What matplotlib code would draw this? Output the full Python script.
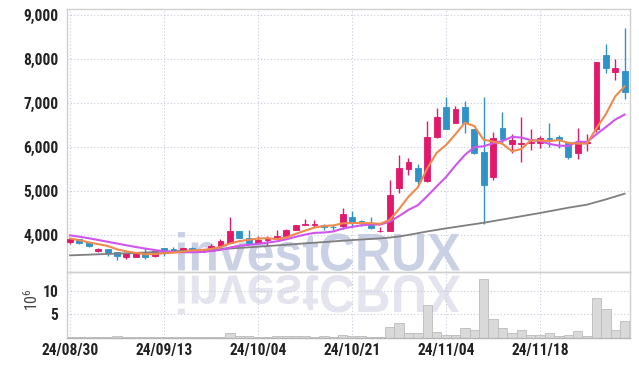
import matplotlib
matplotlib.use("Agg")
import matplotlib.pyplot as plt
import numpy as np
from matplotlib import font_manager
from matplotlib.textpath import TextPath
from matplotlib.patches import PathPatch
from matplotlib.font_manager import FontProperties
from matplotlib.transforms import Affine2D
from matplotlib.ticker import FuncFormatter

# daily candles, 24/08/30 .. 24/11/29
opens = [3822, 3890, 3830, 3630, 3675, 3600, 3495, 3495, 3570, 3500,
         3685, 3675, 3625, 3700, 3600, 3635, 3745, 3815, 4080, 3910,
         3800, 3885, 3905, 3960, 4110, 4215, 4220, 4225, 4170, 4200,
         4400, 4300, 4270, 4070, 4085, 5065, 5490, 5515, 5225, 6215,
         6910, 6550, 6910, 6405, 5885, 5300, 6420, 6055, 6055, 6080,
         6090, 6205, 6225, 6080, 5850, 6080, 6405, 8090, 7710, 7725]
highs = [3915, 3900, 3835, 3700, 3680, 3610, 3580, 3580, 3686, 3640,
         3690, 3715, 3695, 3725, 3660, 3790, 3905, 4390, 4085, 4095,
         3960, 3975, 4100, 4115, 4220, 4350, 4330, 4230, 4220, 4600,
         4530, 4330, 4405, 4180, 5240, 5800, 5750, 5600, 6590, 6875,
         7125, 6935, 7040, 6410, 7140, 6340, 6785, 6290, 6670, 6400,
         6250, 6530, 6265, 6090, 6420, 6285, 7935, 8340, 8000, 8700]
lows = [3775, 3790, 3710, 3595, 3517, 3420, 3450, 3480, 3435, 3495,
        3517, 3620, 3620, 3640, 3595, 3620, 3740, 3800, 3925, 3760,
        3795, 3760, 3900, 3955, 4105, 4210, 4180, 4103, 4100, 4120,
        4165, 4200, 4120, 4060, 4080, 4940, 5355, 5130, 5190, 6200,
        6400, 6545, 6305, 5840, 4240, 5240, 6080, 5850, 5660, 5925,
        5965, 6000, 5965, 5715, 5715, 5910, 6340, 7670, 7520, 7080]
closes = [3898, 3810, 3730, 3665, 3590, 3520, 3570, 3570, 3495, 3620,
          3610, 3635, 3685, 3650, 3650, 3735, 3850, 4080, 3930, 3800,
          3875, 3900, 3970, 4110, 4215, 4245, 4245, 4165, 4160, 4460,
          4270, 4255, 4145, 4085, 4900, 5515, 5650, 5225, 6230, 6685,
          6405, 6865, 6550, 5850, 5130, 6190, 6170, 6150, 6090, 6115,
          6200, 6180, 6175, 5770, 6115, 6115, 7925, 7785, 7795, 7255]

# moving averages
ma5 = [3910, 3870, 3820, 3780, 3740, 3663, 3615, 3583, 3549, 3555,
       3573, 3586, 3609, 3640, 3646, 3671, 3714, 3793, 3849, 3879,
       3907, 3917, 3895, 3931, 4014, 4088, 4157, 4196, 4206, 4255,
       4260, 4262, 4258, 4243, 4331, 4580, 4859, 5075, 5504, 5861,
       6039, 6284, 6547, 6471, 6160, 6117, 6066, 5898, 5946, 6143,
       6143, 6127, 6152, 6088, 6071, 6071, 6420, 6742, 7147, 7375]
ma10 = [3980, 3950, 3915, 3875, 3835, 3795, 3755, 3715, 3680, 3647,
        3618, 3601, 3596, 3595, 3601, 3622, 3650, 3701, 3745, 3763,
        3789, 3816, 3844, 3890, 3947, 3998, 4037, 4046, 4069, 4135,
        4174, 4210, 4227, 4225, 4293, 4420, 4561, 4667, 4874, 5096,
        5310, 5571, 5811, 5988, 6011, 6078, 6130, 6223, 6209, 6152,
        6131, 6063, 6025, 6017, 6116, 6108, 6284, 6447, 6618, 6732]
ma60 = [3525, 3533, 3541, 3549, 3557, 3565, 3573, 3581, 3590, 3600,
        3610, 3618, 3626, 3634, 3644, 3654, 3666, 3680, 3694, 3708,
        3722, 3737, 3752, 3767, 3782, 3798, 3813, 3828, 3843, 3858,
        3873, 3886, 3899, 3912, 3930, 3955, 3990, 4030, 4070, 4105,
        4140, 4172, 4204, 4236, 4268, 4305, 4342, 4379, 4416, 4453,
        4490, 4530, 4570, 4610, 4645, 4680, 4740, 4800, 4865, 4930]

# volume in 10^6 shares
volume = [0.05, 0.05, 0.05, 0.05, 0.05, 0.35, 0.05, 0.05, 0.05, 0.05,
          0.05, 0.05, 0.05, 0.05, 0.05, 0.05, 0.1, 0.9, 0.35, 0.35,
          0.05, 0.05, 0.3, 0.3, 0.3, 0.3, 0.1, 0.3, 0.1, 0.5,
          0.3, 0.3, 0.15, 0.1, 2.3, 3.1, 1.05, 1.0, 7.0, 1.1,
          0.6, 0.6, 2.0, 1.6, 12.7, 4.1, 2.0, 1.0, 1.6, 0.6,
          0.6, 1.0, 0.4, 0.6, 1.4, 0.4, 8.6, 6.1, 1.6, 3.6]

tick_idx = [0, 10, 20, 30, 40, 50]
tick_labels = ["24/08/30", "24/09/13", "24/10/04", "24/10/21", "24/11/04", "24/11/18"]
price_ticks = [4000, 5000, 6000, 7000, 8000, 9000]
vol_ticks = [5, 10]

UP = "#e2186b"
DOWN = "#2f93c7"
GRID = "#c6c9db"
SPINE = "#cfcfcf"
TXT = "#222222"

# pick a narrow face for the tick labels if one is around
available = {f.name for f in font_manager.fontManager.ttflist}
tick_font, tick_size = "DejaVu Sans", 9.0
for fam, size in [("Liberation Sans Narrow", 11.2), ("Roboto Condensed", 11.2), ("Roboto", 10.2)]:
    if fam in available:
        tick_font, tick_size = fam, size
        break
plt.rcParams["font.family"] = [tick_font, "DejaVu Sans"]
plt.rcParams["font.weight"] = "bold"

W, H = 639, 366
fig = plt.figure(figsize=(W / 100, H / 100), dpi=100, facecolor="white")

# ----- watermark (behind everything) -----
tp = TextPath((0, 0), "investCRUX", size=1,
              prop=FontProperties(family="Liberation Sans", weight="bold"))
ext = tp.get_extents()
sx = (460 - 178) / ext.width
sy = (272 - 233) / ext.height
base = H - 271
main_tr = Affine2D().translate(-ext.x0, -ext.y0).scale(sx, sy).translate(178, base)
refl_tr = Affine2D().translate(-ext.x0, -ext.y0).scale(sx, -sy).translate(178, base - 4)
fig.add_artist(PathPatch(tp, transform=refl_tr, facecolor="#e4e4ee", edgecolor="none", zorder=-2))
fig.add_artist(PathPatch(tp, transform=main_tr, facecolor="#cad1e4", edgecolor="none", zorder=-2))

ax = fig.add_axes([67 / W, (H - 272) / H, 563 / W, 263 / H])
axv = fig.add_axes([67 / W, (H - 337.6) / H, 563 / W, 65.6 / H], sharex=ax)

x = np.arange(len(closes))
o = np.array(opens)
c = np.array(closes)
colors = [UP if cc >= oo else DOWN for oo, cc in zip(o, c)]

# candles
ax.vlines(x, lows, highs, colors=colors, linewidth=1.0, zorder=2)
bottoms = np.minimum(o, c)
heights = np.maximum(np.abs(c - o), 12)
ax.bar(x, heights, bottom=bottoms, width=0.62, color=colors, edgecolor=colors,
       linewidth=0.6, zorder=3)

# moving averages
ax.plot(x, ma60, color="#7f7f7f", linewidth=1.3, zorder=4)
ax.plot(x, ma10, color="#cf55ee", linewidth=1.5, zorder=4)
ax.plot(x, ma5, color="#ef8a4c", linewidth=1.5, zorder=5)

# volume
axv.bar(x, volume, width=1.0, color="#d9d9d9", edgecolor="#bcbcbc", linewidth=0.6, zorder=2)

for a in (ax, axv):
    a.set_facecolor("none")
    a.grid(True, color=GRID, linestyle=(0, (1, 2)), linewidth=0.8)
    a.set_axisbelow(True)
    a.tick_params(length=0, labelsize=tick_size, colors=TXT)
    for s in a.spines.values():
        s.set_color(SPINE)
        s.set_linewidth(1.0)
axv.spines["bottom"].set_color("#b5b5b5")

ax.set_xlim(-0.32, 59.57)
ax.set_ylim(3146, 9137)
ax.set_yticks(price_ticks)
ax.yaxis.set_major_formatter(FuncFormatter(lambda v, p: f"{int(v):,}"))
ax.tick_params(axis="y", pad=6)
ax.tick_params(axis="x", labelbottom=False)

axv.set_ylim(0, 14.1)
axv.set_yticks(vol_ticks)
axv.set_yticklabels([str(v) for v in vol_ticks])
axv.tick_params(axis="y", pad=6)
axv.set_xticks(tick_idx)
axv.set_xticklabels(tick_labels)
axv.tick_params(axis="x", pad=4)

fig.text(32 / W, 1 - 300 / H, r"$\mathregular{10^6}$", rotation=90, ha="center", va="center",
         fontsize=11.5, fontweight="normal", color="#444444")

fig.savefig("out.png", dpi=100)
